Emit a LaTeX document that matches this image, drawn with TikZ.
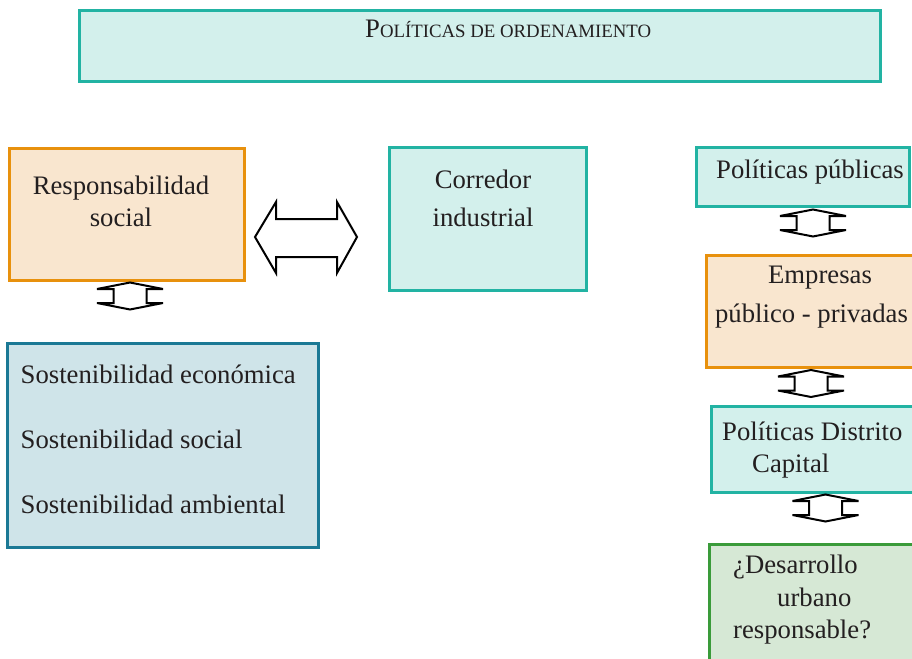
\documentclass[tikz,border=0pt]{standalone}
\usepackage{fontspec}
\setmainfont{Liberation Serif}
\definecolor{tealB}{HTML}{22B3A3}
\definecolor{tealF}{HTML}{D3F0EC}
\definecolor{orB}{HTML}{E8910D}
\definecolor{orF}{HTML}{F9E6CF}
\definecolor{blB}{HTML}{1B7995}
\definecolor{blF}{HTML}{CFE4E9}
\definecolor{grB}{HTML}{3A9B3A}
\definecolor{grF}{HTML}{D6E8D5}
\definecolor{txtc}{HTML}{231F20}
\tikzset{
  boxbase/.style={line width=2.6pt, inner sep=0pt, rectangle},
  tealbox/.style={boxbase, draw=tealB, fill=tealF},
  orbox/.style={boxbase, draw=orB, fill=orF},
  blbox/.style={boxbase, draw=blB, fill=blF},
  grbox/.style={boxbase, draw=grB, fill=grF},
  txt/.style={inner sep=0pt, text=txtc, font=\fontsize{26.7}{32}\selectfont},
  blockarrow/.style={draw=black, line width=2pt, fill=white, line join=miter},
}
\newcommand\boxat[5]{% name, style, corner, width, height
  \node[#2, minimum width=#4, minimum height=#5, anchor=north west] (#1) at #3 {};}
\newcommand\vdarrow[3]{% name, cx, cy
  \coordinate (#1) at (#2,#3);
  \draw[blockarrow] ($(#1)+(0,-13.5)$) -- ($(#1)+(33,-7)$) -- ($(#1)+(16.5,-7)$) -- ($(#1)+(16.5,7)$) -- ($(#1)+(33,7)$) -- ($(#1)+(0,13.5)$) -- ($(#1)+(-33,7)$) -- ($(#1)+(-16.5,7)$) -- ($(#1)+(-16.5,-7)$) -- ($(#1)+(-33,-7)$) -- cycle;}
\usetikzlibrary{calc}
\begin{document}
\begin{tikzpicture}[x=1pt,y=-1pt]
\useasboundingbox (0,0) rectangle (912,658);
\clip (0,0) rectangle (912,658);
\fill[white] (0,0) rectangle (912,658);
% title
\boxat{title}{tealbox}{(78,9)}{801pt}{71pt}
\node[txt, anchor=base west] (titletxt) at (365,37.5) {{\fontsize{26.7}{30}\selectfont P}{\fontsize{18.8}{22}\selectfont OLÍTICAS DE ORDENAMIENTO}};
% left
\boxat{resp}{orbox}{(8,147)}{235pt}{132pt}
\node[txt, anchor=base] (resp1) at (121,194) {Responsabilidad};
\node[txt, anchor=base] (resp2) at (121,226) {social};
\boxat{corr}{tealbox}{(388,146)}{197pt}{143pt}
\node[txt, anchor=base] (corr1) at (483,188) {Corredor};
\node[txt, anchor=base] (corr2) at (483,226) {industrial};
% horizontal double arrow
\coordinate (ha) at (306,237);
\draw[blockarrow] (255,237) -- (276,202) -- (276,219) -- (337,219) -- (337,202) -- (357,237) -- (337,273) -- (337,257) -- (276,257) -- (276,273) -- cycle;
\vdarrow{a0}{130}{296}
\boxat{sost}{blbox}{(6,342)}{311pt}{204pt}
\node[txt, anchor=base west] (s1) at (20.5,383) {Sostenibilidad económica};
\node[txt, anchor=base west] (s2) at (20.5,448) {Sostenibilidad social};
\node[txt, anchor=base west] (s3) at (20.5,513) {Sostenibilidad ambiental};
% right column
\boxat{pp}{tealbox}{(695,146)}{213pt}{59pt}
\node[txt, anchor=base] (pptxt) at (810,178) {Políticas públicas};
\vdarrow{a1}{813}{223}
\boxat{emp}{orbox}{(705,254)}{230pt}{112pt}
\node[txt, anchor=base] (emp1) at (820,283) {Empresas};
\node[txt, anchor=base] (emp2) at (811.5,322) {público - privadas};
\vdarrow{a2}{811}{383.5}
\boxat{pdc}{tealbox}{(710,405)}{230pt}{86pt}
\node[txt, anchor=base west] (pdc1) at (722,440) {Políticas Distrito};
\node[txt, anchor=base west] (pdc2) at (752,472) {Capital};
\vdarrow{a3}{825.5}{508}
\boxat{des}{grbox}{(708,543)}{230pt}{140pt}
\node[txt, anchor=base west] (des1) at (733,573) {¿Desarrollo};
\node[txt, anchor=base west] (des2) at (777,606) {urbano};
\node[txt, anchor=base west] (des3) at (733,638) {responsable?};
\end{tikzpicture}
\end{document}
